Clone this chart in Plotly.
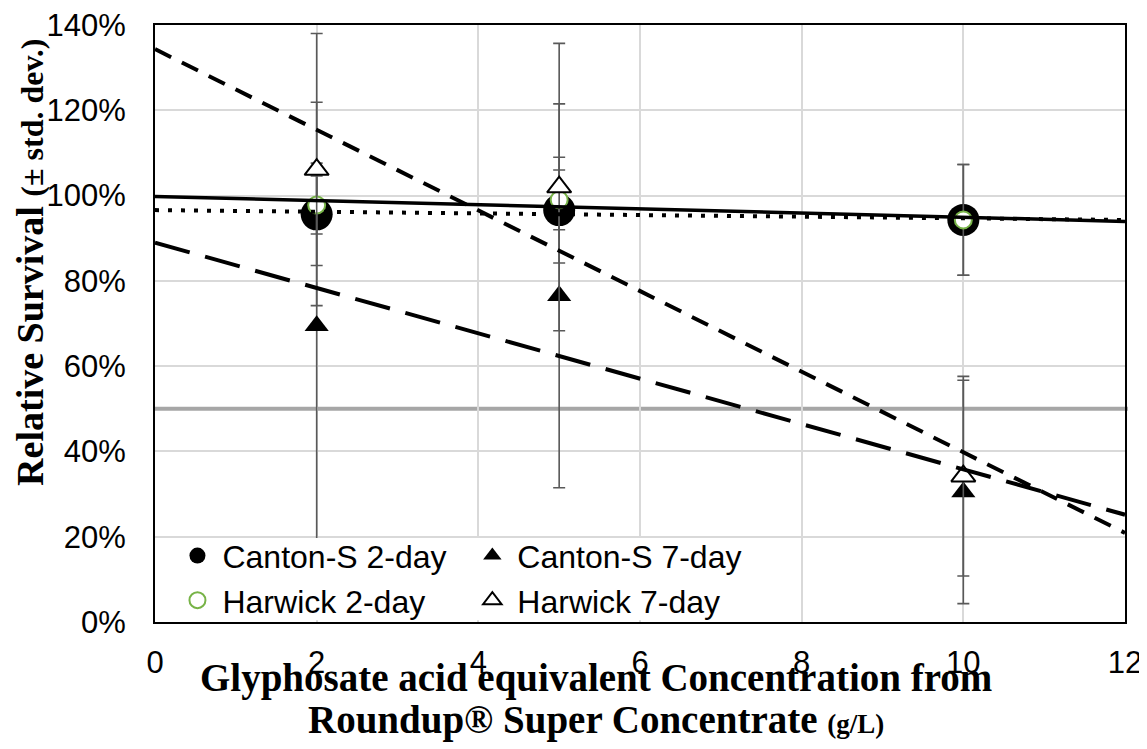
import numpy as np
import plotly.graph_objects as go

# Glyphosate acid equivalent concentration (g/L)
conc = [2, 5, 10]

# Relative survival (%) and standard deviations
canton_2d = [95.6, 96.6, 94.3]
canton_2d_sd = [12.0, 12.4, 13.0]
harwick_2d = [97.8, 99.0, 94.3]
harwick_2d_sd = [6.8, 7.0, 13.0]
canton_7d = [69.5, 76.5, 30.5]
canton_7d_sd = [52.4, 45.0, 26.2]
harwick_7d = [106.1, 102.0, 34.2]
harwick_7d_sd = [31.9, 33.7, 23.4]

x_ticks = [0, 2, 4, 6, 8, 10, 12]
y_ticks = [0, 20, 40, 60, 80, 100, 120, 140]
y_ticktext = [f"{v}%" for v in y_ticks]

SANS = "Liberation Sans, Arial, sans-serif"
SERIF = "Liberation Serif, Times New Roman, serif"
ERR_COLOR = "#595959"
GREEN = "#77B347"

fig = go.Figure()


def err(sd):
    return dict(type="data", array=sd, visible=True, color=ERR_COLOR, thickness=1.6, width=6)


fig.add_trace(go.Scatter(
    x=conc, y=canton_2d, mode="markers", name="Canton-S 2-day", legend="legend",
    error_y=err(canton_2d_sd),
    marker=dict(symbol="circle", size=32, color="black", line=dict(width=0)),
))
fig.add_trace(go.Scatter(
    x=conc, y=canton_7d, mode="markers", name="Canton-S 7-day", legend="legend2",
    error_y=err(canton_7d_sd),
    marker=dict(symbol="triangle-up", size=21, color="black", line=dict(width=0)),
))
fig.add_trace(go.Scatter(
    x=conc, y=harwick_2d, mode="markers", name="Harwick 2-day", legend="legend",
    error_y=err(harwick_2d_sd),
    marker=dict(symbol="circle", size=17, color="white", line=dict(width=2, color=GREEN)),
))
fig.add_trace(go.Scatter(
    x=conc, y=harwick_7d, mode="markers", name="Harwick 7-day", legend="legend2",
    error_y=err(harwick_7d_sd),
    marker=dict(symbol="triangle-up", size=21, color="white", line=dict(width=2, color="black")),
))

# linear trendlines fitted to each series
x_line = np.array([0, 12])
trends = [
    (canton_2d, dict(color="black", width=4, dash="4px,9px")),
    (harwick_2d, dict(color="black", width=3.5)),
    (canton_7d, dict(color="black", width=4, dash="36px,16px")),
    (harwick_7d, dict(color="black", width=4, dash="18px,12px")),
]
for ys, style in trends:
    slope, icpt = np.polyfit(conc, ys, 1)
    fig.add_trace(go.Scatter(x=x_line, y=slope * x_line + icpt, mode="lines",
                             line=style, showlegend=False, hoverinfo="skip"))

# 50% reference line
fig.add_shape(type="line", xref="paper", yref="y", x0=0, x1=1.003, y0=50, y1=50,
              line=dict(color="#A6A6A6", width=4), layer="below")

# white box behind the legend
fig.add_shape(type="rect", xref="x", yref="y", x0=0.03, x1=7.34, y0=0.4, y1=19.7,
              fillcolor="white", line=dict(width=0), layer="above")

legend_style = dict(yanchor="top", xanchor="left", bgcolor="rgba(0,0,0,0)",
                    font=dict(size=32, family=SANS), itemsizing="trace",
                    itemwidth=40, tracegroupgap=0)

# the page adds an 8px body margin, so the figure is made 8px smaller
fig.update_layout(
    width=1139, height=741,
    margin=dict(l=147, r=22, t=17, b=127),
    plot_bgcolor="white", paper_bgcolor="white",
    font=dict(family=SANS, color="black"),
    legend=dict(x=0.018, y=0.157, **legend_style),
    legend2=dict(x=0.322, y=0.157, **legend_style),
    xaxis=dict(range=[0, 12], tickvals=x_ticks, showgrid=True, gridcolor="#D9D9D9", gridwidth=1.5,
               showline=True, linecolor="black", linewidth=2, mirror=True, zeroline=False,
               ticks="", tickfont=dict(size=31), ticklabelstandoff=12, automargin=False,
               ticklabeloverflow="allow"),
    yaxis=dict(range=[0, 140], tickvals=y_ticks, ticktext=y_ticktext, showgrid=True,
               gridcolor="#D9D9D9", gridwidth=1.5,
               showline=True, linecolor="black", linewidth=2, mirror=True, zeroline=False,
               ticks="", tickfont=dict(size=31), ticklabelstandoff=21, automargin=False,
               ticklabeloverflow="allow"),
    annotations=[
        dict(xref="paper", yref="paper", x=-0.129, y=0.603, xanchor="center", yanchor="middle",
             textangle=-90, showarrow=False,
             text="<b>Relative Survival <span style='font-size:32px'>(± std. dev.)</span></b>",
             font=dict(family=SERIF, size=38)),
        dict(xref="paper", yref="paper", x=0.455, y=-0.094, xanchor="center", yanchor="middle",
             showarrow=False,
             text="<b>Glyphosate acid equivalent Concentration from</b>",
             font=dict(family=SERIF, size=39)),
        dict(xref="paper", yref="paper", x=0.455, y=-0.164, xanchor="center", yanchor="middle",
             showarrow=False,
             text="<b>Roundup® Super Concentrate <span style='font-size:27px'>(g/L)</span></b>",
             font=dict(family=SERIF, size=39)),
    ],
)

fig.write_html("out.html")
